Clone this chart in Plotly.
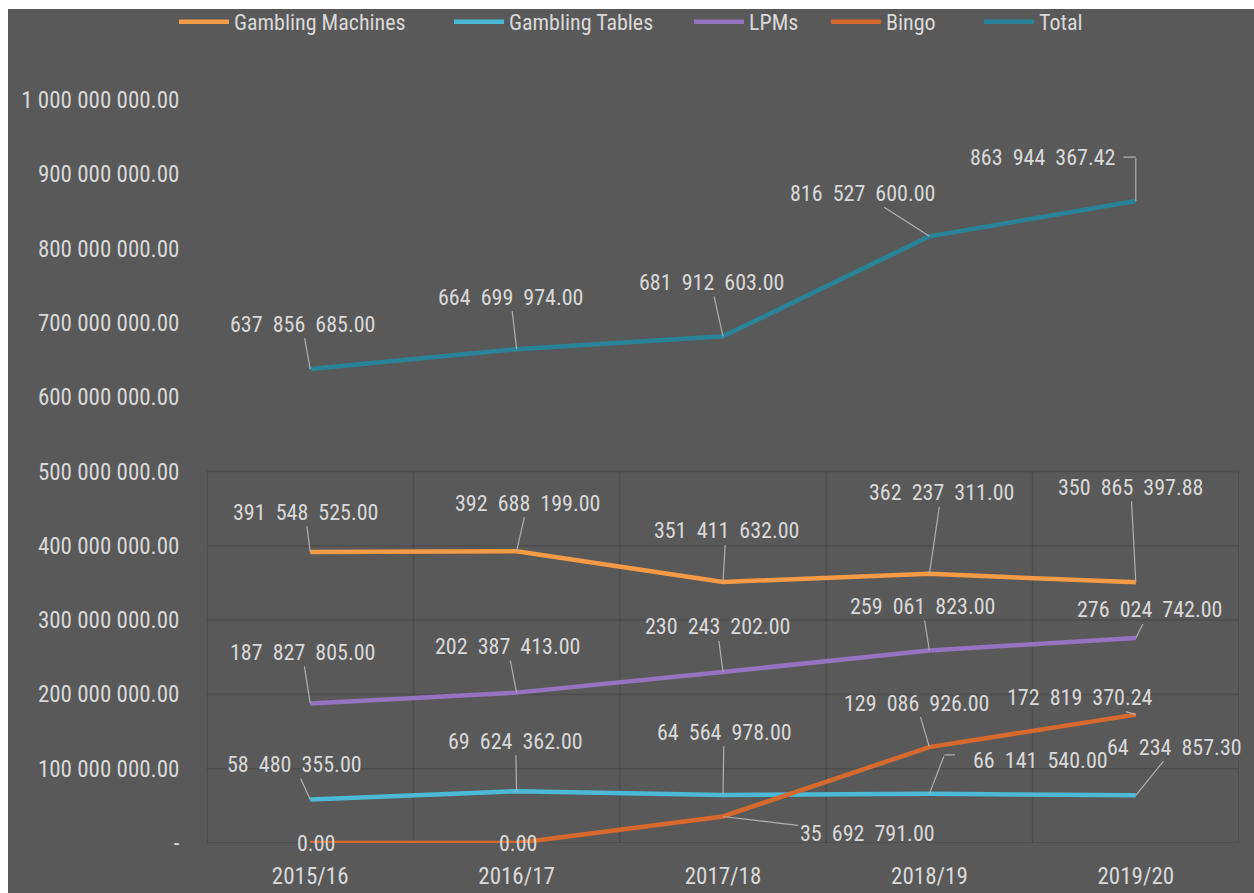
import plotly.graph_objects as go

categories = ["2015/16", "2016/17", "2017/18", "2018/19", "2019/20"]
gambling_machines = [391548525.00, 392688199.00, 351411632.00, 362237311.00, 350865397.88]
gambling_tables = [58480355.00, 69624362.00, 64564978.00, 66141540.00, 64234857.30]
lpms = [187827805.00, 202387413.00, 230243202.00, 259061823.00, 276024742.00]
bingo = [0.00, 0.00, 35692791.00, 129086926.00, 172819370.24]
total = [637856685.00, 664699974.00, 681912603.00, 816527600.00, 863944367.42]

tick_values = [0, 100e6, 200e6, 300e6, 400e6, 500e6, 600e6, 700e6, 800e6, 900e6, 1000e6]
tick_labels = ["-", "100 000 000.00", "200 000 000.00", "300 000 000.00", "400 000 000.00",
               "500 000 000.00", "600 000 000.00", "700 000 000.00", "800 000 000.00",
               "900 000 000.00", "1 000 000 000.00"]

FONT = "Liberation Sans Narrow, Roboto Condensed, Arial Narrow, Liberation Sans, sans-serif"
TXT = "#d9d9d9"
LEAD = "#b0b0b0"

series = [
    ("Gambling Machines", gambling_machines, "#f59a45"),
    ("Gambling Tables", gambling_tables, "#4cbad6"),
    ("LPMs", lpms, "#9673c0"),
    ("Bingo", bingo, "#d8692c"),
    ("Total", total, "#2a8499"),
]

# legend text start positions (px) in the reference
legend_text_x = [235, 510, 750, 887, 1040]

# label offsets (pixels from point to label centre)
offsets = {
    "Gambling Machines": [(-5, -40), (11, -48), (3, -51), (12, -81), (-5, -95)],
    "Gambling Tables": [(-16, -35), (-1, -50), (1, -63), (111, -33), (39, -48)],
    "LPMs": [(-8, -51), (-9, -46), (-6, -45), (-7, -44), (14, -28)],
    "Bingo": [(6, 0), (1, 0), (144, 17), (-13, -44), (-56, -17)],
    "Total": [(-8, -45), (-6, -52), (-12, -54), (-67, -43), (-93, -44)],
}
# leader style: "line" straight leader, "none" no leader, list of segments for elbows
leaders = {
    ("Bingo", 0): "none",
    ("Bingo", 1): "none",
    # segments: (shift_x, shift_y(px, down +), ax, ay)
    ("Gambling Tables", 3): [(0, 0, 15, -39), (15, -39, 12, 0)],
    ("Total", 4): [(0, 0, 0, -44), (0, -44, -14, 0)],
}


def fmt(v):
    s = f"{v:,.2f}"
    return s.replace(",", "&nbsp; ")


W, H = 1254, 893
L, R, T, B = 207, 15, 100, 50
pw, ph = W - L - R, H - T - B

fig = go.Figure()
legend_layouts = {}
for k, (name, vals, col) in enumerate(series):
    lg = "legend" if k == 0 else f"legend{k + 1}"
    fig.add_trace(go.Scatter(x=categories, y=vals, name=name, mode="lines",
                             line=dict(color=col, width=4.5), legend=lg,
                             showlegend=True))
    legend_layouts[lg] = dict(
        orientation="h", xref="container", yref="container",
        x=(legend_text_x[k] - 61) / W, xanchor="left",
        y=0.999, yanchor="top",
        font=dict(family=FONT, size=22, color=TXT),
        bgcolor="rgba(0,0,0,0)", itemwidth=50,
    )

annotations = []
for name, vals, col in series:
    for i, v in enumerate(vals):
        ax, ay = offsets[name][i]
        style = leaders.get((name, i), "line")
        lab_font = dict(family=FONT, size=22, color=TXT)
        if style == "line":
            annotations.append(dict(
                x=categories[i], y=v, xref="x", yref="y", text=fmt(v),
                showarrow=True, arrowhead=0, arrowwidth=1.2, arrowcolor=LEAD,
                ax=ax, ay=ay, standoff=0, font=lab_font))
        else:
            annotations.append(dict(
                x=categories[i], y=v, xref="x", yref="y", text=fmt(v),
                showarrow=False, xshift=ax, yshift=-ay, font=lab_font))
            if isinstance(style, list):
                for sx, sy, sax, say in style:
                    annotations.append(dict(
                        x=categories[i], y=v, xref="x", yref="y", text="",
                        showarrow=True, arrowhead=0, arrowwidth=1.2, arrowcolor=LEAD,
                        ax=sax, ay=say, standoff=0, xshift=sx, yshift=-sy))

# faint background grid visible in the lower half of the reference
GRID = "rgba(30,30,30,0.2)"
grid_shapes = []
for yv in tick_values[:6]:
    grid_shapes.append(dict(type="line", xref="x", yref="y", x0=-0.5, x1=4.5, y0=yv, y1=yv,
                            line=dict(color=GRID, width=1.5), layer="below"))
for xv in [-0.5, 0.5, 1.5, 2.5, 3.5, 4.5]:
    grid_shapes.append(dict(type="line", xref="x", yref="y", x0=xv, x1=xv, y0=0, y1=500e6,
                            line=dict(color=GRID, width=1.5), layer="below"))

fig.update_layout(
    width=W, height=H, showlegend=True,
    paper_bgcolor="#595959", plot_bgcolor="#595959",
    margin=dict(l=L, r=R, t=T, b=B, autoexpand=False),
    font=dict(family=FONT, size=16, color=TXT),
    annotations=annotations,
    shapes=grid_shapes + [
        dict(type="rect", xref="paper", yref="paper", x0=-L / pw, x1=(8 - L) / pw,
             y0=-B / ph, y1=(H - B) / ph, fillcolor="white", line=dict(width=0), layer="above"),
        dict(type="rect", xref="paper", yref="paper", x0=-L / pw, x1=(W - L) / pw,
             y0=(H - B - 9) / ph, y1=(H - B) / ph, fillcolor="white", line=dict(width=0), layer="above"),
    ],
    **legend_layouts,
)
fig.update_xaxes(range=[-0.5, 4.5], showgrid=False, zeroline=False, showline=False,
                 automargin=False,
                 tickfont=dict(family=FONT, size=23, color=TXT),
                 ticks="outside", ticklen=12, tickcolor="rgba(0,0,0,0)")
fig.update_yaxes(range=[0, 1e9], tickvals=tick_values, ticktext=tick_labels,
                 showgrid=False, zeroline=False, showline=False, automargin=False,
                 tickfont=dict(family=FONT, size=23, color=TXT),
                 ticks="outside", ticklen=22, tickcolor="rgba(0,0,0,0)")

fig.write_html("out.html")
